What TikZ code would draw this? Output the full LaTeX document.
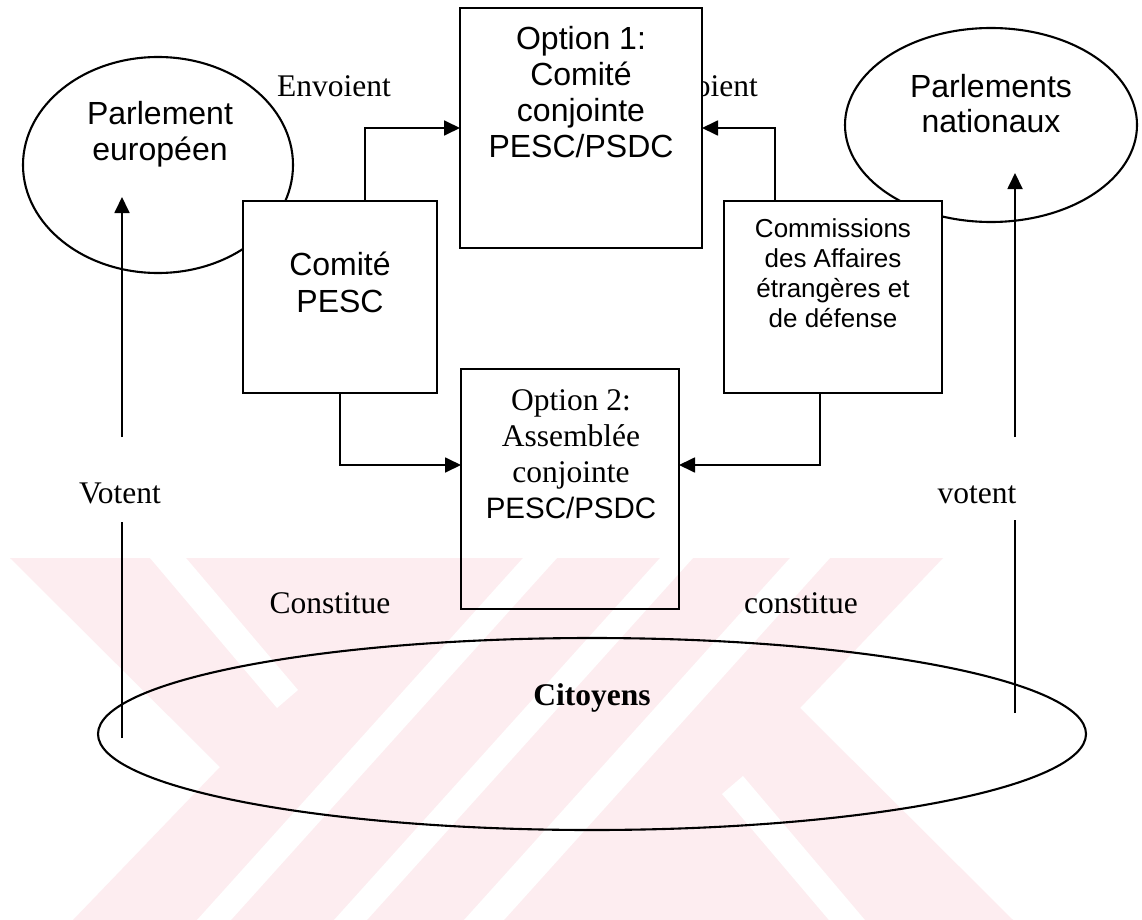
\documentclass[tikz,border=0pt]{standalone}
\usepackage{fontspec}
\setmainfont{Liberation Serif}
\newfontfamily\arialf{Liberation Sans}
\usetikzlibrary{arrows.meta,shapes.geometric}
\definecolor{wmpink}{RGB}{253,237,240}
% centred lines whose reference point is the baseline of the first line
\newcommand{\linestack}[1]{\begin{tabular}[t]{@{}c@{}}#1\end{tabular}}

\begin{document}
\begin{tikzpicture}[x=1pt,y=-1pt,
  box/.style={draw, line width=2.2pt, rectangle, inner sep=0pt, outer sep=0pt},
  oval/.style={draw, line width=2.1pt, ellipse, inner sep=0pt, outer sep=0pt},
  link/.style={line width=1.8pt},
  arr/.style={link, -{Triangle[length=16pt,width=15pt]}},
  sans/.style={font=\arialf\fontsize{32}{36}\selectfont, inner sep=0pt, anchor=base},
  serif/.style={font=\fontsize{31.5}{36}\selectfont, inner sep=0pt, anchor=base},
]
\useasboundingbox (0,0) rectangle (1142,920);
\fill[white] (0,0) rectangle (1142,920);

% background stripes
\begin{scope}
  \clip (0,0) rectangle (1142,920);
  \fill[wmpink] (10,558) -- (220,767) -- (73,920) -- (1013,920) -- (800,708) -- (943,558) -- cycle;
  \fill[white] (523,558) -- (557,558) -- (231,920) -- (197,920) -- cycle;
  \fill[white] (660,558) -- (693,558) -- (367,920) -- (334,920) -- cycle;
  \fill[white] (790,558) -- (830,558) -- (504,920) -- (464,920) -- cycle;
  \fill[white] (150,558) -- (186,558) -- (298,690) -- (277,708) -- cycle;
  \fill[white] (722,794) -- (743,776) -- (870,926) -- (834,926) -- cycle;
\end{scope}

% labels partly covered by the first option box
\node[serif] (env1) at (334,97) {Envoient};
\node[serif, anchor=base east] (env2) at (758,97) {Envoient};

% ovals
\node[oval, minimum width=270pt, minimum height=216pt] (pe) at (158,165) {};
\node[oval, minimum width=292pt, minimum height=194pt] (pn) at (991,125) {};
\node[oval, minimum width=988pt, minimum height=192pt] (cit) at (592,734) {};

% boxes
\node[box, fill=white, minimum width=242pt, minimum height=240pt] (opt1) at (581,128) {};
\node[box, fill=white, minimum width=194pt, minimum height=192pt] (pesc) at (340,297) {};
\node[box, fill=white, minimum width=218pt, minimum height=192pt] (comm) at (833,297) {};
\node[box, minimum width=218pt, minimum height=240pt] (opt2) at (570,489) {};

% texts
\node[sans] (opt1-t) at (581,50) {\linestack{Option 1:\\Comité\\conjointe\\PESC/PSDC}};
\node[sans, font=\arialf\fontsize{32}{37}\selectfont] (pesc-t) at (340,275) {\linestack{Comité\\PESC}};
\node[sans, font=\arialf\fontsize{26}{30.3}\selectfont] (comm-t) at (833,237)
  {\linestack{Commissions\\des Affaires\\étrangères et\\de défense}};
\node[serif] (opt2-t) at (571,410)
  {\linestack{Option 2:\\Assemblée\\conjointe\\{\arialf\fontsize{29.5}{36}\selectfont PESC/PSDC}}};
\node[sans] (pe-t) at (160,125) {\linestack{Parlement\\européen}};
\node[sans, font=\arialf\fontsize{32}{35}\selectfont] (pn-t) at (991,98) {\linestack{Parlements\\nationaux}};
\node[serif] (vot1) at (120,503) {Votent};
\node[serif] (vot2) at (977,503) {votent};
\node[serif] (con1) at (330,613) {Constitue};
\node[serif] (con2) at (801,613) {constitue};
\node[serif, font=\fontsize{31.5}{36}\selectfont\bfseries] (cit-t) at (592,705) {Citoyens};

% connectors between the boxes
\coordinate (j1) at (365,128);
\coordinate (j2) at (775,128);
\coordinate (j3) at (340,465);
\coordinate (j4) at (820,465);
\draw[arr] (pesc.north -| j1) |- (opt1.west);
\draw[arr] (comm.north -| j2) |- (opt1.east);
\draw[arr] (pesc.south -| j3) |- (opt2.west |- j3);
\draw[arr] (comm.south -| j4) |- (opt2.east |- j4);

% vertical links from the citizens to the parliaments
\coordinate (vl0) at (122,738);
\coordinate (vl1) at (122,522);
\coordinate (vl2) at (122,437);
\coordinate (vl3) at (122,197);
\coordinate (vr0) at (1015,713);
\coordinate (vr1) at (1015,520);
\coordinate (vr2) at (1015,437);
\coordinate (vr3) at (1015,173);
\draw[link] (vl0) -- (vl1);
\draw[arr] (vl2) -- (vl3);
\draw[link] (vr0) -- (vr1);
\draw[arr] (vr2) -- (vr3);
\end{tikzpicture}
\end{document}
